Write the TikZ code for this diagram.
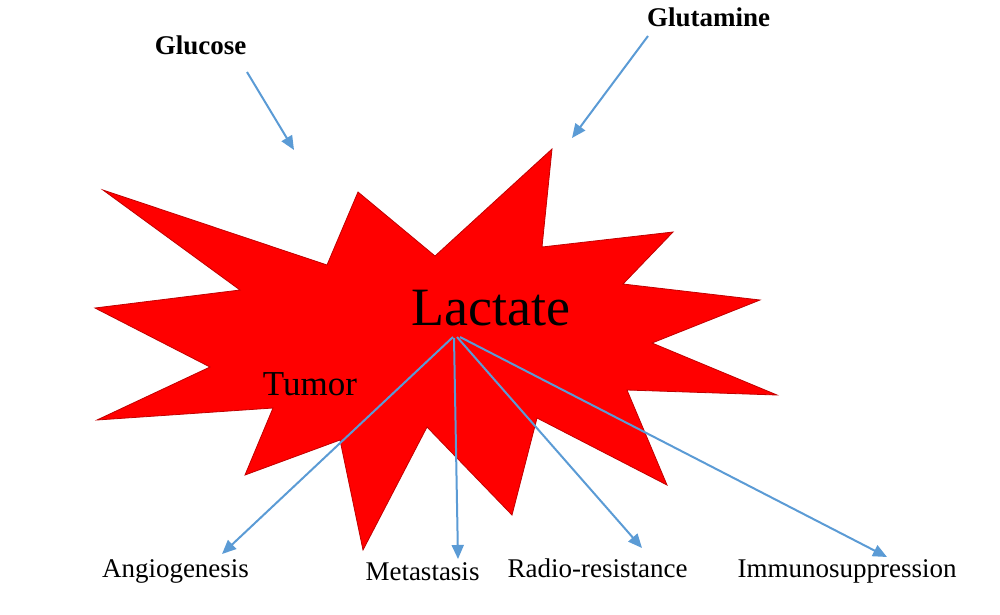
\documentclass[tikz,border=0pt]{standalone}
\usepackage{fontspec}
\setmainfont{Liberation Serif}[BoldFont={Liberation Serif Bold}]
\usetikzlibrary{arrows.meta}
\definecolor{arrowblue}{HTML}{5B9BD5}
\definecolor{starred}{HTML}{FF0000}
\definecolor{staredge}{HTML}{C00000}
\tikzset{
  lbl/.style={anchor=base,inner sep=0pt,font=\fontsize{27}{32}\selectfont},
  lblbold/.style={anchor=base,inner sep=0pt,font=\fontsize{27}{32}\selectfont\bfseries},
  conn/.style={draw=arrowblue,line width=2pt,-{Triangle[length=14pt,width=12pt]}},
}
\begin{document}
\begin{tikzpicture}[x=1pt,y=-1pt]
\useasboundingbox (0,0) rectangle (1000,614);
% tumor star
\filldraw[fill=starred,draw=staredge,line width=0.8pt,line join=miter]
 (103,190) -- (327,265) -- (358,192) -- (435,256) -- (552,149) -- (542,247)
 -- (673,232) -- (623,284) -- (760,300) -- (652,343) -- (777,395) -- (627,390)
 -- (667,485) -- (537,418) -- (512,515) -- (427,427) -- (363,550) -- (340,440)
 -- (245,475) -- (273,408) -- (97,420) -- (210,367) -- (95,308) -- (240,290) -- cycle;
% labels
\node[lblbold] (glucose) at (200.5,54) {Glucose};
\node[lblbold] (glutamine) at (708.5,26) {Glutamine};
\node[anchor=base,inner sep=0pt,font=\fontsize{54}{60}\selectfont] (lactate) at (491,325) {Lactate};
\node[anchor=base,inner sep=0pt,font=\fontsize{35}{40}\selectfont] (tumor) at (310,395) {Tumor};
\node[lbl] (angio) at (175.5,577) {Angiogenesis};
\node[lbl] (meta) at (422.5,580) {Metastasis};
\node[lbl] (radio) at (597.5,577) {Radio-resistance};
\node[lbl] (immuno) at (847,577) {Immunosuppression};
% arrow end points
\coordinate (glucS) at (247,72);
\coordinate (glucE) at (294,150);
\coordinate (glutS) at (648,36);
\coordinate (glutE) at (572,138);
\coordinate (srcA) at (453,337);
\coordinate (srcM) at (454,338);
\coordinate (srcR) at (457,337);
\coordinate (srcI) at (460,337);
\coordinate (angioE) at (222,554);
\coordinate (metaE) at (458,559);
\coordinate (radioE) at (642,548);
\coordinate (immunoE) at (887,557);
% connectors
\draw[conn] (glucS) -- (glucE);
\draw[conn] (glutS) -- (glutE);
\draw[conn] (srcA) -- (angioE);
\draw[conn] (srcM) -- (metaE);
\draw[conn] (srcR) -- (radioE);
\draw[conn] (srcI) -- (immunoE);
\end{tikzpicture}
\end{document}
